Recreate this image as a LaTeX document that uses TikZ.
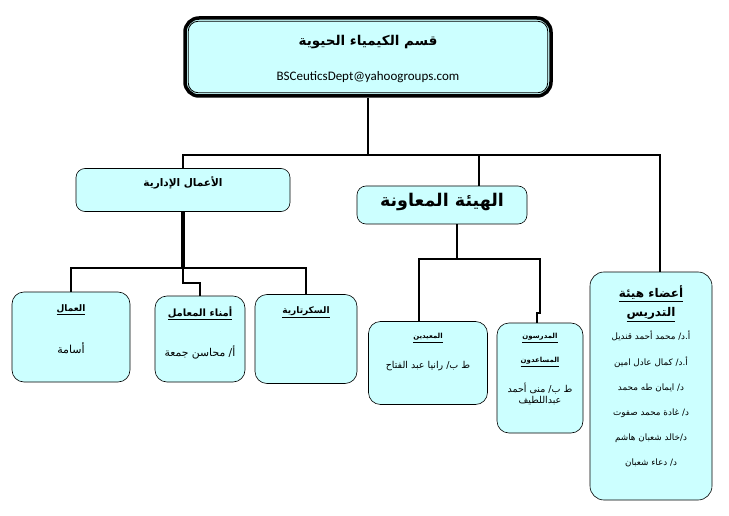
\documentclass[tikz,border=0pt]{standalone}
\usepackage{fontspec}
\setmainfont{Liberation Sans}
\newfontfamily\arabicfont[Script=Arabic]{DejaVu Sans}
\newfontfamily\mailfont{Carlito}
\TeXXeTstate=1
\usetikzlibrary{positioning}
\definecolor{boxcyan}{RGB}{204,255,255}
\newcommand{\ar}[1]{{\arabicfont\beginR #1\endR}}
\newcommand{\arul}[1]{\underline{\arabicfont\beginR #1\endR}}

\begin{document}
\begin{tikzpicture}[
x=1pt, y=-1pt,
every node/.style={
    align=center,
    inner sep=0pt,
    },
box/.style={
    draw,
    fill=boxcyan,
    rounded corners=9pt,
    line width=.6pt,
    },
bar/.style={
    line width=2.6pt,
    },
txt/.style={
    font=\fontsize{9.5}{11}\selectfont,
    },
]
\useasboundingbox (0,0) rectangle (729,516);
% the department box
\node (dept) [box, line width=3.5pt, rounded corners=14pt,
      minimum width=366pt, minimum height=78pt] at (368,57) {};
\draw [line width=.8pt, rounded corners=10pt]
      ([shift={(5pt,5pt)}]dept.south west) rectangle ([shift={(-5pt,-5pt)}]dept.north east);
\node (title) [font=\fontsize{13.5}{15}\bfseries] at (368,42) {\ar{قسم الكيمياء الحيوية}};
\node (mail) [font=\mailfont\fontsize{13}{15}\selectfont] at (368,77) {BSCeuticsDept@yahoogroups.com};

% second level
\node (admin) [box, minimum width=214pt, minimum height=43pt] at (183,190) {};
\node (admintxt) [font=\fontsize{10.5}{12}\bfseries] at (183,183) {\ar{الأعمال الإدارية}};
\node (helper) [box, minimum width=170pt, minimum height=38pt] at (442,205) {};
\node (helpertxt) [font=\fontsize{17.5}{19}\bfseries] at (442,202) {\ar{الهيئة المعاونة}};
\node (teach) [box, rounded corners=14pt, minimum width=122pt, minimum height=228pt] at (651,386) {};
\node (teachhead) [font=\fontsize{12}{17}\bfseries] at (651,304)
      {\arul{أعضاء هيئة}\\[2pt] \arul{التدريس}};
\node (teachnames) [font=\fontsize{8.8}{25.2}\selectfont, anchor=north] at (651,331)
      {\ar{أ.د/ محمد أحمد قنديل}\\ \ar{أ.د/ كمال عادل امين}\\ \ar{د/ ايمان طه محمد}\\
       \ar{د/ غادة محمد صفوت}\\ \ar{د/خالد شعبان هاشم}\\ \ar{د/ دعاء شعبان}};

% under the admin box
\node (workers) [box, rounded corners=12pt, minimum width=118pt, minimum height=90pt] at (71,337) {};
\node (workershead) [font=\fontsize{9}{11}\bfseries] at (71,310) {\arul{العمال}};
\node (workersname) [font=\fontsize{11}{13}\selectfont] at (71,348) {\ar{أسامة}};
\node (labs) [box, rounded corners=12pt, minimum width=90pt, minimum height=86pt] at (200,339) {};
\node (labshead) [font=\fontsize{10}{12}\bfseries] at (200,313) {\arul{أمناء المعامل}};
\node (labsname) [font=\fontsize{10.8}{12}\selectfont] at (200,352) {\ar{أ/ محاسن جمعة}};
\node (secr) [box, rounded corners=12pt, minimum width=102pt, minimum height=89pt] at (306,339) {};
\node (secrhead) [font=\fontsize{9}{11}\bfseries] at (306,312) {\arul{السكرتارية}};

% under the helper box
\node (demo) [box, rounded corners=12pt, minimum width=119pt, minimum height=83pt] at (428,363) {};
\node (demohead) [font=\fontsize{7}{9}\bfseries] at (428,338) {\arul{المعيدين}};
\node (demoname) [txt] at (428,366) {\ar{ط ب/ رانيا عبد الفتاح}};
\node (assist) [box, rounded corners=12pt, minimum width=86pt, minimum height=110pt] at (540,378) {};
\node (assisthead) [font=\fontsize{7}{24}\bfseries] at (540,350)
      {\arul{المدرسون}\\ \arul{المساعدون}};
\node (assistname) [txt] at (540,394)
      {\ar{ط ب/ منى أحمد}\\ \ar{عبداللطيف}};

% connectors
\coordinate (bus) at (368,155);
\coordinate (teachin) at ([xshift=9pt]teach.north);
\coordinate (helperin) at ([xshift=37pt]helper.north);
\draw [bar] (dept.south) -- (bus);
\draw [bar] (admin.north) -- (admin.north |- bus) -- (teachin |- bus) -- (teachin);
\draw [bar] (helperin) -- (helperin |- bus);

\coordinate (adminbus) at (183,268);
\draw [line width=4.5pt] (admin.south) -- (adminbus);
\draw [bar] (workers.north) -- (workers.north |- adminbus) -- (secr.north |- adminbus) -- (secr.north);
\draw [bar] (adminbus) -- ++(0,15) -| (labs.north);

\coordinate (helperout) at ([xshift=15pt]helper.south);
\coordinate (helperbus) at (457,259);
\coordinate (demoin) at ([xshift=-9pt]demo.north);
\coordinate (assistin) at ([xshift=-3pt]assist.north);
\draw [bar] (helperout) -- (helperbus);
\draw [bar] (demoin) -- (demoin |- helperbus) -- (540,259) -- (540,313) -- (assistin |- 0,313) -- (assistin);
\end{tikzpicture}
\end{document}
